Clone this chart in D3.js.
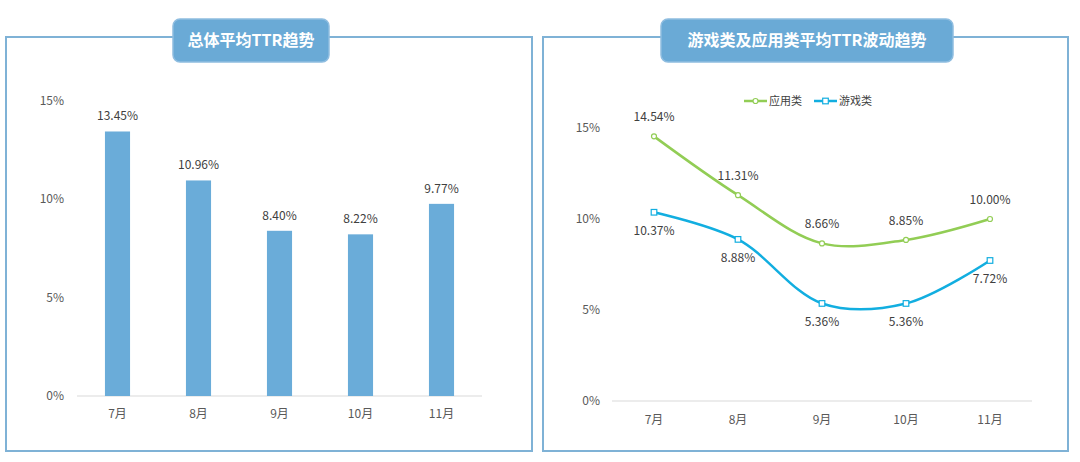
<!DOCTYPE html>
<html><head><meta charset="utf-8">
<script src="https://cdn.jsdelivr.net/npm/d3@7/dist/d3.min.js"></script>
<style>body{margin:0;background:#fff;}svg{display:block;font-family:"Noto Sans CJK SC","Noto Sans",sans-serif;}</style>
</head><body><svg id="c" width="1080" height="462"></svg>
<script>
const months = ["7月","8月","9月","10月","11月"];
const overallTTR = [13.45, 10.96, 8.40, 8.22, 9.77];
const appTTR = [14.54, 11.31, 8.66, 8.85, 10.00];
const gameTTR = [10.37, 8.88, 5.36, 5.36, 7.72];
const yTicks = [0, 5, 10, 15];
const titleLeft = "总体平均TTR趋势";
const titleRight = "游戏类及应用类平均TTR波动趋势";
const seriesNames = ["应用类","游戏类"];

const svg = d3.select("#c");
const borderCol = "#7fb2d6", boxCol = "#6aaad6";

function panel(x0, x1, tx0, tx1, title) {
  svg.append("rect").attr("x", x0).attr("y", 37).attr("width", x1 - x0).attr("height", 451 - 37)
    .attr("fill", "none").attr("stroke", borderCol).attr("stroke-width", 2);
  svg.append("rect").attr("x", tx0).attr("y", 19).attr("width", tx1 - tx0).attr("height", 43)
    .attr("rx", 7).attr("fill", boxCol).attr("stroke", "#8fbde0").attr("stroke-width", 1.5);
  svg.append("text").attr("x", (tx0 + tx1) / 2).attr("y", 46).attr("text-anchor", "middle")
    .attr("fill", "#fff").attr("font-size", 16).attr("font-weight", "bold").text(title);
}
panel(6, 532, 173, 329, titleLeft);
panel(543, 1068, 661, 953, titleRight);

const fmt = v => v.toFixed(2) + "%";

// Left bar chart
{
  const x = d3.scaleBand().domain(months).range([77, 482]).paddingInner(0.69).paddingOuter(0.345);
  const y = d3.scaleLinear().domain([0, 15]).range([396, 101]);
  const g = svg.append("g");
  g.selectAll("text.yt").data(yTicks).join("text").attr("x", 64).attr("y", d => y(d) + 4)
    .attr("text-anchor", "end").attr("font-size", 12).attr("fill", "#595959").text(d => d + "%");
  g.append("line").attr("x1", 77).attr("x2", 482).attr("y1", y(0)).attr("y2", y(0)).attr("stroke", "#d9d9d9");
  g.selectAll("rect.b").data(overallTTR).join("rect")
    .attr("x", (d, i) => x(months[i])).attr("width", x.bandwidth())
    .attr("y", d => y(d)).attr("height", d => y(0) - y(d)).attr("fill", "#6aacd9");
  g.selectAll("text.v").data(overallTTR).join("text")
    .attr("x", (d, i) => x(months[i]) + x.bandwidth() / 2).attr("y", d => y(d) - 11)
    .attr("text-anchor", "middle").attr("font-size", 12).attr("fill", "#404040").text(fmt);
  g.selectAll("text.xl").data(months).join("text")
    .attr("x", d => x(d) + x.bandwidth() / 2).attr("y", 418)
    .attr("text-anchor", "middle").attr("font-size", 12).attr("fill", "#595959").text(d => d);
}

// Right line chart
{
  const x = d3.scalePoint().domain(months).range([612, 1032]).padding(0.5);
  const y = d3.scaleLinear().domain([0, 15]).range([401, 128]);
  const g = svg.append("g");
  g.selectAll("text.yt").data(yTicks).join("text").attr("x", 600).attr("y", d => y(d) + 4)
    .attr("text-anchor", "end").attr("font-size", 12).attr("fill", "#595959").text(d => d + "%");
  g.append("line").attr("x1", 612).attr("x2", 1032).attr("y1", y(0)).attr("y2", y(0)).attr("stroke", "#d9d9d9");
  g.selectAll("text.xl").data(months).join("text")
    .attr("x", d => x(d)).attr("y", 424)
    .attr("text-anchor", "middle").attr("font-size", 12).attr("fill", "#595959").text(d => d);
  const line = d3.line().x((d, i) => x(months[i])).y(d => y(d)).curve(d3.curveCatmullRom.alpha(0.5));
  const green = "#92cd55", blue = "#12aee0";
  g.append("path").attr("d", line(appTTR)).attr("fill", "none").attr("stroke", green).attr("stroke-width", 2.5);
  g.append("path").attr("d", line(gameTTR)).attr("fill", "none").attr("stroke", blue).attr("stroke-width", 2.5);
  g.selectAll("circle.a").data(appTTR).join("circle").attr("cx", (d, i) => x(months[i])).attr("cy", d => y(d))
    .attr("r", 2.5).attr("fill", "#fff").attr("stroke", green).attr("stroke-width", 1.2);
  g.selectAll("rect.m").data(gameTTR).join("rect").attr("x", (d, i) => x(months[i]) - 2.8).attr("y", d => y(d) - 2.8)
    .attr("width", 5.6).attr("height", 5.6).attr("fill", "#fff").attr("stroke", blue).attr("stroke-width", 1.2);
  g.selectAll("text.av").data(appTTR).join("text").attr("x", (d, i) => x(months[i])).attr("y", d => y(d) - 15)
    .attr("text-anchor", "middle").attr("font-size", 12).attr("fill", "#404040").text(fmt);
  g.selectAll("text.gv").data(gameTTR).join("text").attr("x", (d, i) => x(months[i])).attr("y", d => y(d) + 23)
    .attr("text-anchor", "middle").attr("font-size", 12).attr("fill", "#404040").text(fmt);
  // legend
  const leg = [{n: seriesNames[0], c: green, x: 744, t: "c"}, {n: seriesNames[1], c: blue, x: 814, t: "s"}];
  leg.forEach(l => {
    g.append("line").attr("x1", l.x).attr("x2", l.x + 23).attr("y1", 101).attr("y2", 101).attr("stroke", l.c).attr("stroke-width", 2.5);
    if (l.t === "c") g.append("circle").attr("cx", l.x + 11.5).attr("cy", 101).attr("r", 2.5).attr("fill", "#fff").attr("stroke", l.c).attr("stroke-width", 1.2);
    else g.append("rect").attr("x", l.x + 8.7).attr("y", 98.2).attr("width", 5.6).attr("height", 5.6).attr("fill", "#fff").attr("stroke", l.c).attr("stroke-width", 1.2);
    g.append("text").attr("x", l.x + 25).attr("y", 105).attr("font-size", 11).attr("fill", "#404040").text(l.n);
  });
}
</script></body></html>
